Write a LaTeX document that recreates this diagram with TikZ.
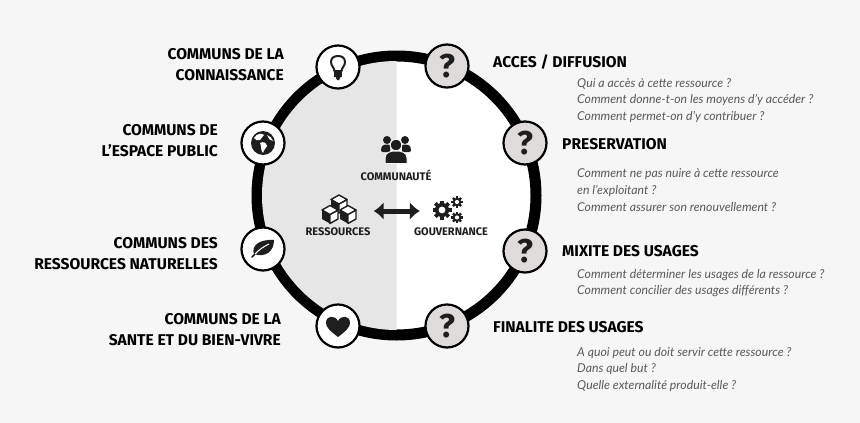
\documentclass[tikz,border=0pt]{standalone}
\usepackage{fontspec}
\setmainfont{Fira Sans}
\newfontfamily\questfont{Lato}
\usepackage{xcolor}
\usetikzlibrary{arrows.meta,positioning}
\definecolor{bgcol}{HTML}{F6F6F6}
\definecolor{halfcol}{HTML}{E6E6E6}
\definecolor{inkcol}{HTML}{1E1E1E}
\definecolor{qcol}{HTML}{DEDBDA}
\definecolor{askcol}{HTML}{5A5A5A}
\newcommand{\headfont}{\fontsize{15.6}{21}\selectfont\bfseries}
\newcommand{\askfont}{\questfont\fontsize{12.25}{16.6}\selectfont\itshape}
\tikzset{
  gearicon/.pic={
    \foreach \a in {0,45,...,135} \fill[inkcol, rotate=\a] (-0.2*#1,-#1) rectangle (0.2*#1,#1);
    \fill[inkcol] (0,0) circle (0.75*#1);
    \fill[white] (0,0) circle (0.36*#1);
  },
  cubeicon/.pic={
    \fill[inkcol] (0,0) -- (-8,-4.5) -- (-8,4.5) -- (0,9) -- cycle;
    \draw[inkcol, line width=1.4, fill=white, line join=round] (0,0) -- (8,-4.5) -- (8,4.5) -- (0,9) -- cycle;
    \draw[inkcol, line width=1.4, fill=white, line join=round] (0,0) -- (-8,-4.5) -- (0,-9) -- (8,-4.5) -- cycle;
  }
}
\begin{document}
\begin{tikzpicture}[x=1pt, y=-1pt,
  lobe/.style={draw=black, circle, line width=2.2, minimum size=43, inner sep=0, fill=white},
  ask/.style={lobe, fill=qcol, text=inkcol, font=\fontsize{33}{33}\selectfont\bfseries},
  head/.style={font=\headfont, text=black, align=right, anchor=east, inner sep=0},
  headr/.style={font=\headfont, text=black, anchor=west, inner sep=0},
  quest/.style={font=\askfont, text=askcol, align=left, anchor=west, inner sep=0},
  tag/.style={font=\fontsize{11}{12}\selectfont\bfseries, text=inkcol, inner sep=0},
  ar/.style={{Latex[length=10,width=18]}-{Latex[length=10,width=18]}, line width=5, draw=inkcol}]
  \useasboundingbox (0,0) rectangle (860,423);
  \fill[bgcol] (0,0) rectangle (860,423);
  % ring and its grey half
  \node[circle, draw=black, fill=white, line width=11, minimum size=279, inner sep=0] (ring) at (396.5,195.5) {};
  \begin{scope}
    \clip (200,0) rectangle (396.5,423);
    \fill[halfcol] (ring.center) circle (134.5);
  \end{scope}
  % left nodes
  \node[lobe] (bulb) at (338,67) {};
  \node[lobe] (globe) at (263,143) {};
  \node[lobe] (leaf) at (263,249) {};
  \node[lobe] (heart) at (338,326) {};
  % right nodes
  \node[ask] (acces) at (447,66) {?};
  \node[ask] (preserv) at (525,143) {?};
  \node[ask] (mixite) at (525,251) {?};
  \node[ask] (finalite) at (447,326) {?};
  % icons
  \begin{scope}[shift={(bulb.center)}]
    \draw[inkcol, line width=2, fill=white] (-3.5,4) .. controls (-4,0) and (-7,-1) .. (-7,-5) .. controls (-7,-9.5) and (-3.5,-11) .. (0,-11) .. controls (3.5,-11) and (7,-9.5) .. (7,-5) .. controls (7,-1) and (4,0) .. (3.5,4) -- cycle;
    \fill[inkcol] (-4,4) rectangle (4,10);
    \fill[inkcol] (-2.5,10) -- (2.5,10) -- (1,13) -- (-1,13) -- cycle;
  \end{scope}
  \begin{scope}[shift={(globe.center)}]
    \fill[inkcol] (0,0) circle (12);
    \fill[white] (-9,-5) .. controls (-6,-10) and (-1,-10) .. (1,-8) .. controls (0,-5) and (-2,-6) .. (-3,-3) .. controls (-6,-2) and (-7,-3) .. (-9,-5) -- cycle;
    \fill[white] (-3,0) .. controls (1,-2) and (3,0) .. (4,3) .. controls (3,6) and (1,6) .. (0,10) .. controls (-3,7) and (-1,3) .. (-3,0) -- cycle;
    \fill[white] (4,-8) .. controls (7,-7) and (9,-5) .. (10,-2) .. controls (7,-2) and (6,-4) .. (4,-8) -- cycle;
  \end{scope}
  \begin{scope}[shift={(leaf.center)}]
    \fill[inkcol] (-9,5) .. controls (-12,-3) and (-4,-10) .. (11,-9) .. controls (11,2) and (3,9) .. (-9,5) -- cycle;
    \draw[inkcol, line width=1.6, line cap=round] (-11,8) -- (-8,5);
    \draw[white, line width=1] (-8,5) .. controls (-3,0) and (0,-2) .. (6,-5);
  \end{scope}
  \begin{scope}[shift={(heart.center)}]
    \fill[inkcol] (0,11) .. controls (-8,5) and (-12,1) .. (-12,-3) .. controls (-12,-11) and (-3,-11) .. (0,-5) .. controls (3,-11) and (12,-11) .. (12,-3) .. controls (12,1) and (8,5) .. (0,11) -- cycle;
  \end{scope}
  % centre group
  \node[tag] (comm) at (396,175) {COMMUNAUTÉ};
  \node[tag] (res) at (338,232) {RESSOURCES};
  \node[tag] (gouv) at (451,232) {GOUVERNANCE};
  \coordinate (peopleicon) at (396,150);
  \begin{scope}[shift={(peopleicon)}]
    \fill[inkcol] (-9,-10) circle (4);
    \fill[inkcol] (9,-10) circle (4);
    \fill[inkcol] (-15,0) .. controls (-15,-6) and (-10,-6) .. (-6,-5) -- (-6,2) -- (-13,2) .. controls (-14.5,2) and (-15,1) .. (-15,0) -- cycle;
    \fill[inkcol] (15,0) .. controls (15,-6) and (10,-6) .. (6,-5) -- (6,2) -- (13,2) .. controls (14.5,2) and (15,1) .. (15,0) -- cycle;
    \draw[bgcol, line width=1, fill=inkcol] (0,-5) circle (5.8);
    \draw[bgcol, line width=1, fill=inkcol] (-11,13.5) -- (-11,8) .. controls (-11,2) and (-5,1) .. (0,1) .. controls (5,1) and (11,2) .. (11,8) -- (11,13.5) -- cycle;
  \end{scope}
  \node[inner sep=0, minimum width=70, minimum height=10] (cubes) at (338.5,211) {};
  \node[inner sep=0, minimum width=54, minimum height=10] (gears) at (447,211) {};
  \pic at (339,204) {cubeicon};
  \pic at (330,214.5) {cubeicon};
  \pic at (348,214.5) {cubeicon};
  \pic at (442,210) {gearicon=9.5};
  \pic at (457,202) {gearicon=5.8};
  \pic at (457,217.5) {gearicon=5.8};
  \draw[ar] (cubes.east) -- (gears.west);
  % left labels
  \node[head] (lconn) at (284,64.5) {COMMUNS DE LA\\CONNAISSANCE};
  \node[head] (lesp) at (218,140.5) {COMMUNS DE\\L’ESPACE PUBLIC};
  \node[head] (lres) at (218,254) {COMMUNS DES\\RESSOURCES NATURELLES};
  \node[head] (lsan) at (281,329.5) {COMMUNS DE LA\\SANTE ET DU BIEN-VIVRE};
  % right labels
  \node[headr] (racc) at (493,62) {ACCES / DIFFUSION};
  \node[headr] (rpre) at (562,144) {PRESERVATION};
  \node[headr] (rmix) at (562,251) {MIXITE DES USAGES};
  \node[headr] (rfin) at (493,327) {FINALITE DES USAGES};
  \node[quest] (qacc) at (577,100.5) {Qui a accès à cette ressource ?\\Comment donne-t-on les moyens d’y accéder ?\\Comment permet-on d’y contribuer ?};
  \node[quest] (qpre) at (577,190) {Comment ne pas nuire à cette ressource\\en l’exploitant ?\\Comment assurer son renouvellement ?};
  \node[quest] (qmix) at (577,283) {Comment déterminer les usages de la ressource ?\\Comment concilier des usages différents ?};
  \node[quest] (qfin) at (577,369.5) {A quoi peut ou doit servir cette ressource ?\\Dans quel but ?\\Quelle externalité produit-elle ?};
\end{tikzpicture}
\end{document}
